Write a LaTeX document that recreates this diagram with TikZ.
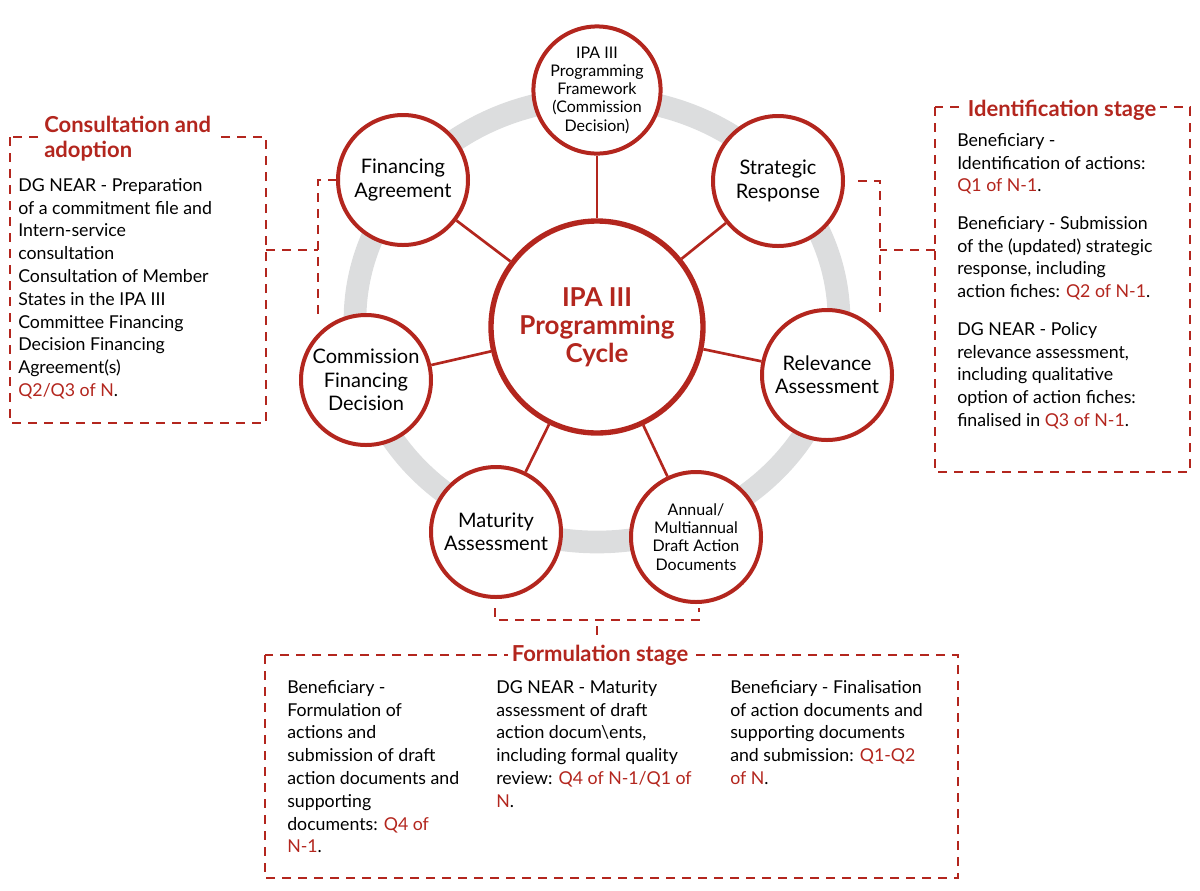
\documentclass[tikz,border=0pt]{standalone}
\usepackage{fontspec}
\setmainfont{Lato}
\definecolor{ipred}{HTML}{B3261E}
\definecolor{ring}{HTML}{DCDDDE}
\begin{document}
\begin{tikzpicture}[x=0.75pt,y=-0.75pt,
  sm/.style={circle,draw=ipred,line width=3pt,fill=white,minimum size=124*0.75pt,inner sep=0pt,align=center,font=\fontsize{15}{17.5}\selectfont},
  spoke/.style={draw=ipred,line width=2pt},
  dsh/.style={draw=ipred,line width=1.3pt,dash pattern=on 7pt off 5pt},
  ttl/.style={text=ipred,font=\bfseries\fontsize{16.5}{19}\selectfont,fill=white,inner sep=3pt},
  body/.style={align=left,anchor=north west,font=\fontsize{13.3}{17.1}\selectfont,inner sep=0pt}]
\useasboundingbox (0,0) rectangle (1200,890);
\draw[ring,line width=17pt] (597,320) ellipse [x radius=242, y radius=222];
\node[circle,draw=ipred,line width=4pt,fill=white,minimum size=212*0.75pt,align=center,text=ipred,font=\bfseries\fontsize{19.5}{21}\selectfont] (c) at (597,327) {IPA III\\Programming\\Cycle};
\node[sm,font=\fontsize{12}{13.7}\selectfont] (a) at (597,90) {IPA III\\Programming\\Framework\\(Commission\\Decision)};
\node[sm,minimum size=130*0.75pt] (fa) at (403,180) {Financing\\Agreement};
\node[sm,minimum size=130*0.75pt] (sr) at (778,181) {Strategic\\Response};
\node[sm,minimum size=130*0.75pt] (ra) at (827,375) {Relevance\\Assessment};
\node[sm,minimum size=130*0.75pt,font=\fontsize{12}{13.7}\selectfont] (ad) at (696,537) {Annual/\\Multiannual\\Draft Action\\Documents};
\node[sm,minimum size=130*0.75pt] (ma) at (496,532) {Maturity\\Assessment};
\node[sm,minimum size=130*0.75pt] (cf) at (366,380) {Commission\\Financing\\Decision};
\foreach \n in {a,fa,sr,ra,ad,ma,cf} \draw[spoke] (c) -- (\n);
% left box
\draw[dsh] (10,137) rectangle (266,423);
\node[ttl,anchor=north west,align=left,fill=white] (lt) at (40,112) {Consultation and\\adoption};
\node[body] (lb) at (18,178) {DG NEAR - Preparation\\of a commitment file and\\Intern-service\\consultation\\Consultation of Member\\States in the IPA III\\Committee Financing\\Decision Financing\\Agreement(s)\\\textcolor{ipred}{Q2/Q3 of N}.};
\coordinate (l1) at (337,180); \coordinate (l2) at (318,180); \coordinate (l3) at (318,320);
\coordinate (l4) at (318,250); \coordinate (l5) at (266,250);
\draw[dsh] (l1) -- (l2) -- (l3); \draw[dsh] (l5) -- (l4);
% right box
\draw[dsh] (935,107) rectangle (1190,472);
\node[ttl] (rt) at (1062,110) {Identification stage};
\node[body] (rb) at (957,133) {Beneficiary -\\Identification of actions:\\\textcolor{ipred}{Q1 of N-1}.\\[11pt]Beneficiary - Submission\\of the (updated) strategic\\response, including\\action fiches: \textcolor{ipred}{Q2 of N-1}.\\[11pt]DG NEAR - Policy\\relevance assessment,\\including qualitative\\option of action fiches:\\finalised in \textcolor{ipred}{Q3 of N-1}.};
\coordinate (r1) at (858,181); \coordinate (r2) at (880,181); \coordinate (r3) at (880,318);
\coordinate (r4) at (880,250); \coordinate (r5) at (935,250);
\draw[dsh] (r1) -- (r2) -- (r3); \draw[dsh] (r5) -- (r4);
% bottom box
\draw[dsh] (265,655) rectangle (958,878);
\node[ttl] (bt) at (600,655) {Formulation stage};
\node[body] (b1) at (287,680) {Beneficiary -\\Formulation of\\actions and\\submission of draft\\action documents and\\supporting\\documents: \textcolor{ipred}{Q4 of}\\\textcolor{ipred}{N-1}.};
\node[body] (b2) at (496,680) {DG NEAR - Maturity\\assessment of draft\\action docum\textbackslash ents,\\including formal quality\\review: \textcolor{ipred}{Q4 of N-1/Q1 of}\\\textcolor{ipred}{N}.};
\node[body] (b3) at (730,680) {Beneficiary - Finalisation\\of action documents and\\supporting documents\\and submission: \textcolor{ipred}{Q1-Q2}\\\textcolor{ipred}{of N}.};
\coordinate (f1) at (495,608); \coordinate (f2) at (495,620); \coordinate (f3) at (699,620); \coordinate (f4) at (699,608);
\coordinate (f5) at (597,626); \coordinate (f6) at (597,640);
\draw[dsh] (f1) -- (f2) -- (f3) -- (f4); \draw[dsh] (f5) -- (f6);
\end{tikzpicture}
\end{document}
